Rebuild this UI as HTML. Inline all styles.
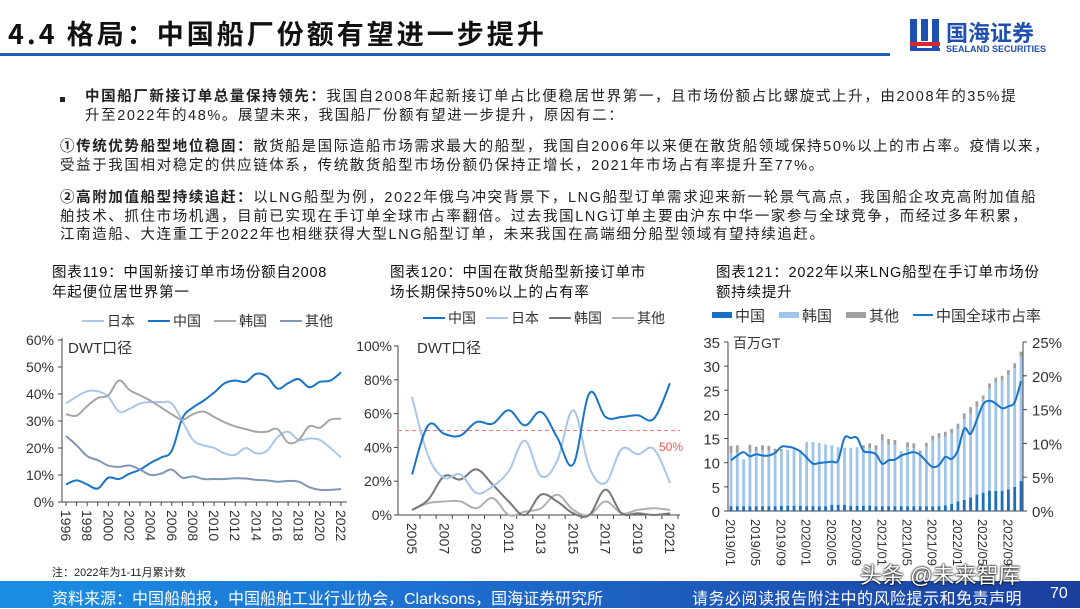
<!DOCTYPE html>
<html><head><meta charset="utf-8">
<style>
body{margin:0;width:1080px;height:608px;overflow:hidden;background:#fff;font-family:"Liberation Sans","Noto Sans CJK SC",sans-serif;position:relative;color:#222}
.a{position:absolute;white-space:nowrap}
.p{font-size:14.5px;line-height:18.5px;color:#222;letter-spacing:1.6px}
.t{font-size:14.5px;line-height:20px;color:#111;letter-spacing:0.8px}
</style></head><body>
<div class="a" style="left:8px;top:13px;font-size:27px;letter-spacing:3px;font-weight:bold;font-family:'Noto Sans CJK SC',sans-serif;color:#111">4.4 格局：中国船厂份额有望进一步提升</div>
<div class="a" style="left:0;top:53px;width:890px;height:3px;background:#1f5fb5"></div>
<div class="a" style="left:908px;top:16px;width:160px;height:42px">
 <svg width="34" height="40" style="position:absolute;left:0;top:0"><rect x="2" y="3" width="7" height="30" fill="#1f4fb0"/><rect x="13" y="3" width="7" height="22" fill="#1f4fb0"/><rect x="24" y="3" width="7" height="30" fill="#1f4fb0"/><rect x="2" y="26" width="30" height="4" fill="#d8262e"/><rect x="2" y="32" width="30" height="3" fill="#1f4fb0"/></svg>
 <div class="a" style="left:38px;top:0;font-size:22px;font-weight:bold;color:#1f4fb0">国海证券</div>
 <div class="a" style="left:38px;top:28px;font-size:9px;font-weight:bold;color:#1f4fb0">SEALAND SECURITIES</div>
</div>
<div class="a" style="left:60px;top:97px;width:5px;height:5px;background:#222"></div>
<div class="a p" style="left:85px;top:88px"><b>中国船厂新接订单总量保持领先：</b>我国自2008年起新接订单占比便稳居世界第一，且市场份额占比螺旋式上升，由2008年的35%提<br>升至2022年的48%。展望未来，我国船厂份额有望进一步提升，原因有二：</div>
<div class="a p" style="left:60px;top:138px"><b>①传统优势船型地位稳固：</b>散货船是国际造船市场需求最大的船型，我国自2006年以来便在散货船领域保持50%以上的市占率。疫情以来，<br>受益于我国相对稳定的供应链体系，传统散货船型市场份额仍保持正增长，2021年市场占有率提升至77%。</div>
<div class="a p" style="left:60px;top:189px"><b>②高附加值船型持续追赶：</b>以LNG船型为例，2022年俄乌冲突背景下，LNG船型订单需求迎来新一轮景气高点，我国船企攻克高附加值船<br>舶技术、抓住市场机遇，目前已实现在手订单全球市占率翻倍。过去我国LNG订单主要由沪东中华一家参与全球竞争，而经过多年积累，<br>江南造船、大连重工于2022年也相继获得大型LNG船型订单，未来我国在高端细分船型领域有望持续追赶。</div>
<div class="a t" style="left:52px;top:263px">图表119：中国新接订单市场份额自2008<br>年起便位居世界第一</div>
<div class="a t" style="left:390px;top:263px">图表120：中国在散货船型新接订单市<br>场长期保持50%以上的占有率</div>
<div class="a t" style="left:716px;top:263px">图表121：2022年以来LNG船型在手订单市场份<br>额持续提升</div>
<div class="a" style="left:52px;top:564px;font-size:11px">注：2022年为1-11月累计数</div>
<div class="a" style="left:0;top:581px;width:1080px;height:27px;background:linear-gradient(90deg,#1a8fe3,#1d6fd0 40%,#1c3f9e)"></div>
<div class="a" style="left:52px;top:585px;font-size:16px;color:#fff">资料来源：中国船舶报，中国船舶工业行业协会，Clarksons，国海证券研究所</div>
<div class="a" style="left:692px;top:585px;font-size:16px;letter-spacing:0.5px;color:#fff">请务必阅读报告附注中的风险提示和免责声明</div>
<div class="a" style="left:1050px;top:585px;font-size:16px;color:#fff">70</div>
<div class="a" style="left:860px;top:558px;font-size:22px;color:#fff;text-shadow:0 0 2px #000,0 0 2px #000">头条 @未来智库</div>

<svg id="c" class="a" style="left:0;top:0" width="1080" height="608" font-family="Liberation Sans, Noto Sans CJK SC, sans-serif"></svg>
<script>
// Chart 1 data
const years1=[1996,1997,1998,1999,2000,2001,2002,2003,2004,2005,2006,2007,2008,2009,2010,2011,2012,2013,2014,2015,2016,2017,2018,2019,2020,2021,2022];
const c1China=[6.5,8,6.5,5,9,8.5,10.5,12,14.5,16.5,19,31,35,37.5,40.5,44,45,44.5,47.5,46.5,42,44,45.5,42.5,44.5,45,48];
const c1Japan=[36.5,39,41,41,39,33.5,34.5,36.5,37,37,36.5,30,23,21,20,18,17.5,20,18,19,24,26,23,23.5,23,20,16.5];
const c1Korea=[32.5,32,35.5,38.5,39.5,45,41.5,39.5,37.5,35,32.5,30.5,32.5,33.5,31.5,29.5,28,27,26,26,27,22,23,28,27.5,30.5,30.8];
const c1Other=[24.5,21,17,15.5,13.5,13,13.5,12,10,10.5,12,9,9.5,8.5,8.5,8.5,8.8,8.7,8.2,8,7.5,7.8,7.5,5.5,4.5,4.5,4.8];
const c1Ticks=[0,10,20,30,40,50,60];
// Chart 2 data
const years2=[2005,2006,2007,2008,2009,2010,2011,2012,2013,2014,2015,2016,2017,2018,2019,2020,2021];
const c2China=[24,53,48,47,55,54,62,53,61,46,30,72,58,58,59,57,78];
const c2Japan=[70,35,22,24,13,17,26,44,23,32,62,28,19,39,36,39,19];
const c2Korea=[3,9,23,21,27,18,8,0,12,8,1,0,15,1,1,0,1];
const c2Other=[3,7,8,8,4,10,0,2,4,12,3,0,8,1,3,4,3];
const c2Ticks=[0,20,40,60,80,100];
const c2Ref=50;
// Chart 3 data
const c3China=[1,1,1,1,1,1,1,1,1.1,1.1,1.1,1.1,1,1,1,1,1.3,1.3,1.3,1.1,1.1,1.1,1.1,1,1,1,1,1,1,1,1,1,1,1,1.2,1.5,2,2.3,2.8,3.4,3.8,4.2,4.2,4.2,4.5,5,6.2];
const c3Total=[13.5,13.6,10.7,13.7,13.3,13.6,13.5,12.9,12.8,12.7,12.8,12.6,14.3,14.3,14.1,13.8,13.6,13.2,13.1,13.1,13.2,13.6,14,13.6,15.9,14.9,14.7,12.3,14.2,14,12.5,14.1,15.6,16.1,16.4,17,18.1,20.2,21.5,22.7,23.9,26.4,27.6,28,29.2,30.6,33];
const c3Other=[1.5,1.5,0,1.5,1,1,1,0.6,0.4,0,0,0,0,0,0,0,0,0,0,0,0,0.6,1,1,1.2,1.2,1,0.3,1,1,0.5,0.8,1,1,1,1,1.1,1.2,1.3,1.2,0.7,1.1,1,1,1,1,1];
const c3Share=[7.5,8.2,8.7,8.1,8.4,8.2,8.2,8.6,9.5,9.5,9.3,8.8,7.9,7,7.1,7.2,7.3,7.5,10.8,10.8,10.8,8.9,8.7,8.4,7,7.5,7.6,8.2,8.5,8.7,8.3,7.3,6.5,6.8,8,7.7,9,12.2,11.4,13.5,15.8,16.3,15.9,15.2,15.5,16.1,19.2];
const c3LeftTicks=[0,5,10,15,20,25,30,35];
const c3RightTicks=[0,5,10,15,20,25];
const c3Labels=['2019/01','2019/05','2019/09','2020/01','2020/05','2020/09','2021/01','2021/05','2021/09','2022/01','2022/05','2022/09'];

const svg=document.getElementById('c');const NS='http://www.w3.org/2000/svg';
function el(t,a,p){const e=document.createElementNS(NS,t);for(const k in a)e.setAttribute(k,a[k]);(p||svg).appendChild(e);return e;}
function txt(x,y,s,a){const e=el('text',Object.assign({x:x,y:y,'font-size':14,fill:'#333'},a||{}));e.textContent=s;return e;}
function smooth(pts){let d='M'+pts[0][0]+','+pts[0][1];for(let i=0;i<pts.length-1;i++){const p0=pts[i-1]||pts[i],p1=pts[i],p2=pts[i+1],p3=pts[i+2]||p2;const t=0.18;d+=' C'+(p1[0]+(p2[0]-p0[0])*t)+','+(p1[1]+(p2[1]-p0[1])*t)+' '+(p2[0]-(p3[0]-p1[0])*t)+','+(p2[1]-(p3[1]-p1[1])*t)+' '+p2[0]+','+p2[1];}return d;}

// ---- Chart 1
{const x0=62,x1=347,y0=502,y1=340,xa=66,xb=341;
const X=i=>xa+(xb-xa)*i/(years1.length-1),Y=v=>y0-(y0-y1)*v/60;
const g=el('g',{});
el('line',{x1:x0,y1:y1-2,x2:x0,y2:y0,stroke:'#444'},g);el('line',{x1:x0,y1:y0,x2:x1,y2:y0,stroke:'#444'},g);
c1Ticks.forEach(v=>{el('line',{x1:x0-4,x2:x0,y1:Y(v),y2:Y(v),stroke:'#444'},g);const t=txt(x0-8,Y(v)+5,v+'%',{'text-anchor':'end'});});
years1.forEach((yr,i)=>{el('line',{x1:X(i),x2:X(i),y1:y0,y2:y0+4,stroke:'#444'},g);if(i%2==0){const t=txt(X(i)-5,y0+8,String(yr),{transform:'rotate(90 '+(X(i)-5)+' '+(y0+8)+')'});}});
txt(68,353,'DWT口径',{'font-size':15});
const S=[[c1Japan,'#a9c6ea','日本'],[c1China,'#1874c8','中国'],[c1Korea,'#a6a6a6','韩国'],[c1Other,'#8096b5','其他']];
S.forEach((s,k)=>{const p=el('path',{d:smooth(s[0].map((v,i)=>[X(i),Y(v)])),fill:'none',stroke:s[1],'stroke-width':2},g);
const lx=82+k*66;el('line',{x1:lx,x2:lx+22,y1:321,y2:321,stroke:s[1],'stroke-width':2});const t=txt(lx+25,326,s[2],{'font-size':14});});}

// ---- Chart 2
{const x0=398,x1=680,y0=515,y1=346,xa=412,xb=670;
const X=i=>xa+(xb-xa)*i/(years2.length-1),Y=v=>y0-(y0-y1)*v/100;
el('line',{x1:x0,y1:y1,x2:x0,y2:y0,stroke:'#444'});el('line',{x1:x0,y1:y0,x2:x1,y2:y0,stroke:'#444'});
c2Ticks.forEach(v=>{el('line',{x1:x0-4,x2:x0,y1:Y(v),y2:Y(v),stroke:'#444'});const t=txt(x0-6,Y(v)+5,v+'%',{'text-anchor':'end'});});
years2.forEach((yr,i)=>{el('line',{x1:X(i)+8,x2:X(i)+8,y1:y0,y2:y0+4,stroke:'#444'});if(i%2==0){const t=txt(X(i)-5,y0+8,String(yr),{transform:'rotate(90 '+(X(i)-5)+' '+(y0+8)+')'});}});
txt(417,353,'DWT口径',{'font-size':15});
const r=el('line',{x1:x0,x2:x1,y1:Y(c2Ref),y2:Y(c2Ref),stroke:'#f07a7a','stroke-dasharray':'4,3'});
txt(659,451,'50%',{fill:'#f05a5a','font-size':12});
const S=[[c2China,'#1874c8','中国'],[c2Japan,'#a9c6ea','日本'],[c2Korea,'#777','韩国'],[c2Other,'#b0b0b0','其他']];
[3,2,1,0].forEach(k=>{const s=S[k];const p=el('path',{d:smooth(s[0].map((v,i)=>[X(i),Y(v)])),fill:'none',stroke:s[1],'stroke-width':2});});
S.forEach((s,k)=>{const lx=423+k*63;el('line',{x1:lx,x2:lx+22,y1:318,y2:318,stroke:s[1],'stroke-width':2});const t=txt(lx+25,323,s[2]);});}

// ---- Chart 3
{const x0=728,x1=1023,y0=511,y1=342,n=c3Total.length,xa=731,xb=1021;
const X=i=>xa+(xb-xa)*i/(n-1),Y=v=>y0-(y0-y1)*v/35,YR=v=>y0-(y0-y1)*v/25;
el('line',{x1:x0,y1:y1,x2:x0,y2:y0,stroke:'#444'});el('line',{x1:x1,y1:y1,x2:x1,y2:y0,stroke:'#444'});el('line',{x1:x0,y1:y0,x2:x1,y2:y0,stroke:'#444'});
c3LeftTicks.forEach(v=>{el('line',{x1:x0-4,x2:x0,y1:Y(v),y2:Y(v),stroke:'#444'});const t=txt(x0-8,Y(v)+6,String(v),{'text-anchor':'end','font-size':15});});
c3RightTicks.forEach(v=>{el('line',{x1:x1,x2:x1+4,y1:YR(v),y2:YR(v),stroke:'#444'});const t=txt(x1+9,YR(v)+6,v+'%',{'font-size':15});});
txt(733,348,'百万GT',{'font-size':14});
for(let i=0;i<n;i++){const o=c3Other[i],c=c3China[i],tot=c3Total[i],kr=tot-o-c,w=2.8,x=X(i)-w/2;
const b1=el('rect',{x:x,width:w,y:Y(c),height:y0-Y(c),fill:'#1a6fc0'});
const b2=el('rect',{x:x,width:w,y:Y(c+kr),height:Y(c)-Y(c+kr),fill:'#9fc6ea'});
const b3=el('rect',{x:x,width:w,y:Y(tot),height:Y(c+kr)-Y(tot),fill:'#a0a0a0'});}
const p=el('path',{d:smooth(c3Share.map((v,i)=>[X(i),YR(v)])),fill:'none',stroke:'#1874c8','stroke-width':2});
c3Labels.forEach((s,k)=>{const x=X(k*4)-5;const t=txt(x,y0+8,s,{transform:'rotate(90 '+x+' '+(y0+8)+')','font-size':13});});
const L=[['rect','#1a6fc0','中国',712],['rect','#9fc6ea','韩国',779],['rect','#a0a0a0','其他',846],['line','#1874c8','中国全球市占率',913]];
L.forEach(s=>{if(s[0]=='rect')el('rect',{x:s[3],y:312,width:20,height:6,fill:s[1]});else el('line',{x1:s[3],x2:s[3]+20,y1:315,y2:315,stroke:s[1],'stroke-width':2});const t=txt(s[3]+23,321,s[2],{'font-size':15});});}
</script>
</body></html>
